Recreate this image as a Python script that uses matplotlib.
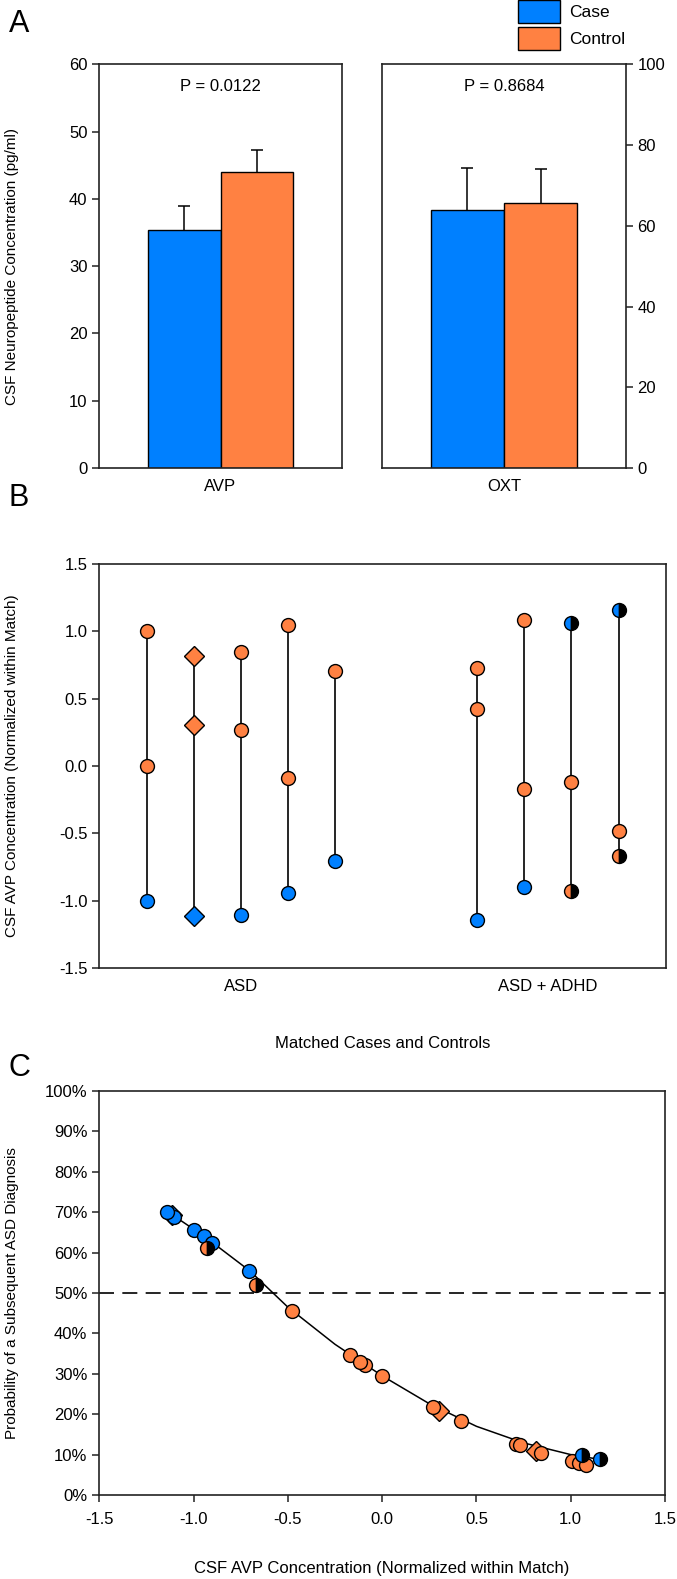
import matplotlib
matplotlib.use("Agg")
from matplotlib import pyplot as plt
from matplotlib.patches import Patch
from matplotlib.ticker import FuncFormatter

plt.rcParams['font.family'] = ['Liberation Sans', 'DejaVu Sans']
plt.rcParams['font.size'] = 12

CASE_COL = '#0080FF'
CTRL_COL = '#FF8142'

# panel A - bar chart
peptides = ['AVP', 'OXT']
case_mean = [35.4, 63.9]
case_sem = [3.5, 10.5]
ctrl_mean = [44.0, 65.7]
ctrl_sem = [3.2, 8.4]
p_values = ['P = 0.0122', 'P = 0.8684']
ylims = [60, 100]
ysteps = [10, 20]

# panel B / C - one entry per subject
match_names = ['ASD', 'ASD + ADHD']
match_name_pos = [2, 8.5]
subj_match = [0, 0, 0, 1, 1, 1, 2, 2, 2, 3, 3, 3, 4, 4,
              7, 7, 7, 8, 8, 8, 9, 9, 9, 10, 10, 10]
subj_avp = [1.005, 0.0, -1.0, 0.815, 0.304, -1.115, 0.843, 0.27, -1.105,
            1.046, -0.09, -0.945, 0.708, -0.705,
            0.73, 0.42, -1.14, 1.081, -0.17, -0.90, 1.06, -0.12, -0.93,
            1.155, -0.48, -0.67]
subj_group = ['ctrl', 'ctrl', 'case', 'ctrl', 'ctrl', 'case', 'ctrl', 'ctrl', 'case',
              'ctrl', 'ctrl', 'case', 'ctrl', 'case',
              'ctrl', 'ctrl', 'case', 'ctrl', 'ctrl', 'case', 'case', 'ctrl', 'ctrl',
              'case', 'ctrl', 'ctrl']
subj_marker = ['o', 'o', 'o', 'D', 'D', 'D'] + ['o'] * 20
subj_half = [False] * 20 + [True, False, True, True, False, True]
subj_prob = [8.4, 29.4, 65.5, 10.9, 20.8, 69.3, 10.4, 21.9, 68.8,
             7.8, 32.1, 64.0, 12.7, 55.5,
             12.3, 18.4, 70.0, 7.5, 34.7, 62.3, 9.8, 33.0, 61.2,
             8.8, 45.5, 51.9]

# fitted curve in panel C
curve_x = [-1.14, -1.0, -0.9, -0.7, -0.5, -0.25, 0.0, 0.25, 0.5, 0.75, 1.0, 1.155]
curve_p = [70.2, 65.8, 62.5, 55.4, 46.5, 37.3, 29.5, 22.6, 17.0, 12.9, 10.0, 8.8]

W, H = 677, 1579
fig = plt.figure(figsize=(W / 100, H / 100), dpi=100)


def box(x0, x1, y0, y1):
    return [x0 / W, 1 - y1 / H, (x1 - x0) / W, (y1 - y0) / H]


def style(ax):
    for s in ax.spines.values():
        s.set_linewidth(1.2)
        s.set_color('#222222')
    ax.tick_params(direction='out', length=5, width=1.1, color='#222222')


def marker_kw(i):
    col = CASE_COL if subj_group[i] == 'case' else CTRL_COL
    kw = dict(marker=subj_marker[i], markersize=10,
              markerfacecolor=col, markeredgecolor='black', markeredgewidth=1.0,
              linestyle='none')
    if subj_half[i]:
        kw.update(fillstyle='left', markerfacecoloralt='black')
    return kw


# ---- panel A
axA = [fig.add_axes(box(99.3, 341.7, 64.3, 468)), fig.add_axes(box(382.3, 625.7, 64.3, 468))]
for k, ax in enumerate(axA):
    style(ax)
    ax.bar(-0.3, case_mean[k], width=0.6, color=CASE_COL, edgecolor='black', linewidth=1.0, zorder=2)
    ax.bar(0.3, ctrl_mean[k], width=0.6, color=CTRL_COL, edgecolor='black', linewidth=1.0, zorder=2)
    eb = ax.errorbar([-0.3, 0.3], [case_mean[k], ctrl_mean[k]],
                     yerr=[[0, 0], [case_sem[k], ctrl_sem[k]]], fmt='none', ecolor='black',
                     elinewidth=1.1, capsize=4.5, capthick=1.1, zorder=1)
    eb[1][0].set_visible(False)  # no lower cap
    ax.set_xlim(-1, 1)
    ax.set_ylim(0, ylims[k])
    ax.set_yticks(range(0, ylims[k] + 1, ysteps[k]))
    ax.set_xticks([0])
    ax.set_xticklabels([peptides[k]])
    ax.tick_params(axis='x', length=0, pad=8)
    ax.text(0.5, 0.945, p_values[k], transform=ax.transAxes, ha='center', va='center')
axA[1].yaxis.tick_right()
axA[0].set_ylabel('CSF Neuropeptide Concentration (pg/ml)', fontsize=11)
axA[0].yaxis.set_label_coords(-0.33, 0.5)

fig.legend(handles=[Patch(facecolor=CASE_COL, edgecolor='black'),
                    Patch(facecolor=CTRL_COL, edgecolor='black')],
           labels=['Case', 'Control'], loc='upper left', bbox_to_anchor=(518 / W, 1.0),
           frameon=False, handlelength=2.4, handleheight=1.65, labelspacing=0.2,
           handletextpad=0.55, borderpad=0.02, borderaxespad=0, fontsize=12.5)

# ---- panel B
axB = fig.add_axes(box(99.3, 665.7, 564, 968))
style(axB)
for m in sorted(set(subj_match)):
    vals = [subj_avp[i] for i in range(len(subj_match)) if subj_match[i] == m]
    axB.plot([m, m], [min(vals), max(vals)], color='black', linewidth=1.2, zorder=1)
for i in range(len(subj_match)):
    axB.plot(subj_match[i], subj_avp[i], zorder=3, **marker_kw(i))
axB.set_xlim(-1, 11)
axB.set_ylim(-1.5, 1.5)
axB.set_yticks([-1.5, -1.0, -0.5, 0.0, 0.5, 1.0, 1.5])
axB.yaxis.set_major_formatter(FuncFormatter(lambda v, p: '%.1f' % v))
axB.set_xticks(match_name_pos)
axB.set_xticklabels(match_names)
axB.tick_params(axis='x', length=0, pad=8)
axB.set_xlabel('Matched Cases and Controls', labelpad=30)
axB.set_ylabel('CSF AVP Concentration (Normalized within Match)', fontsize=11)
axB.yaxis.set_label_coords(-0.142, 0.5)

# ---- panel C
axC = fig.add_axes(box(99.3, 665, 1091, 1495))
style(axC)
axC.axhline(50, color='black', linewidth=1.2, dashes=(9, 5), zorder=1)
axC.plot(curve_x, curve_p, color='black', linewidth=1.1, zorder=2)
for i in range(len(subj_match)):
    axC.plot(subj_avp[i], subj_prob[i], zorder=3, **marker_kw(i))
axC.set_xlim(-1.5, 1.5)
axC.set_ylim(0, 100)
axC.set_xticks([-1.5, -1.0, -0.5, 0.0, 0.5, 1.0, 1.5])
axC.xaxis.set_major_formatter(FuncFormatter(lambda v, p: '%.1f' % v))
axC.set_yticks(range(0, 101, 10))
axC.yaxis.set_major_formatter(FuncFormatter(lambda v, p: '%d%%' % v))
axC.tick_params(axis='x', pad=7)
axC.set_xlabel('CSF AVP Concentration (Normalized within Match)', labelpad=25)
axC.set_ylabel('Probability of a Subsequent ASD Diagnosis', fontsize=11)
axC.yaxis.set_label_coords(-0.142, 0.5)

for lab, y in zip(['A', 'B', 'C'], [24, 498, 1068]):
    fig.text(19 / W, 1 - y / H, lab, fontsize=22, ha='center', va='center')

fig.savefig('out.png', dpi=100)
